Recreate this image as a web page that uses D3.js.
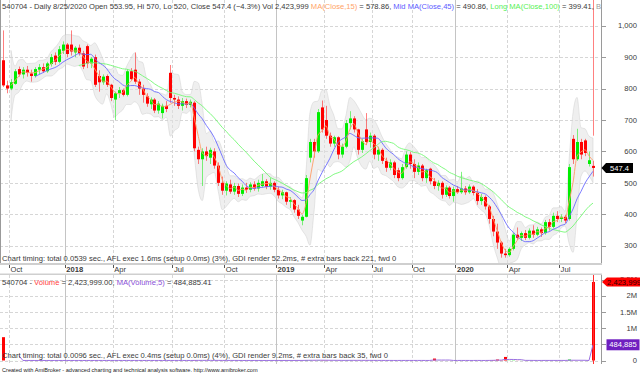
<!DOCTYPE html>
<html>
<head>
  <meta charset="utf-8">
  <title>540704 - Daily</title>
  <style>
    body { margin: 0; background: #ffffff; }
    svg { display: block; font-family: "Liberation Sans", Arial, sans-serif; }
    .txt { font-size: 7.6px; fill: #3a3a3a; }
    .grid { stroke: #d6d6d6; stroke-width: 1px; stroke-dasharray: 3,2; shape-rendering: crispEdges; }
    .grid-year { stroke: #c4c4c4; stroke-dasharray: none; }
    .axis-line { stroke: #9a9a9a; stroke-width: 1px; shape-rendering: crispEdges; }
    .band { fill: #e2e2e2; fill-opacity: 0.55; stroke: #c8c8c8; stroke-width: 0.6px; stroke-opacity: 0.7; }
    .ma { fill: none; stroke-width: 0.9px; }
  </style>
</head>
<body>
  <div id="chart"></div>

  <script src="https://d3js.org/d3.v7.min.js"></script>
  <script>
    // one bar ~ one trading week
    const opens = [890,810,800,815,862,845,860,848,840,860,868,855,878,905,885,920,940,940,915,930,
      912,935,880,900,840,820,840,812,765,785,795,780,855,860,822,800,775,750,765,730,
      722,745,850,770,765,745,760,748,755,605,575,600,580,600,555,500,475,495,472,490,
      465,485,478,495,482,490,505,488,500,478,460,470,440,445,415,380,392,580,630,600,
      740,700,650,625,645,590,615,690,705,670,605,670,630,650,590,605,570,548,565,540,
      515,550,590,560,535,555,515,545,505,490,500,462,485,458,480,470,482,470,488,468,
      442,455,425,385,345,310,275,270,290,335,325,340,325,348,335,352,340,375,360,395,
      385,392,385,640,575,630,635,560,553.95];
    const highs = [985,825,830,862,870,868,872,860,868,878,880,885,910,915,935,950,945,985,935,940,
      920,940,900,908,858,845,845,815,790,805,800,862,865,915,830,812,785,772,770,760,
      752,760,875,780,775,770,768,765,760,615,610,615,612,610,565,520,505,510,500,498,
      495,500,502,505,510,528,512,515,505,488,478,472,455,448,430,398,525,640,640,735,
      762,745,660,650,648,625,700,728,712,672,640,722,660,655,615,610,580,575,570,548,
      560,600,598,575,565,560,545,548,515,508,505,492,490,488,490,535,490,495,492,480,
      465,460,430,395,370,315,290,295,340,358,345,350,355,365,360,358,382,385,405,410,
      400,398,560,652,672,640,640,600,570];
    const lows = [805,785,795,812,838,832,838,822,835,845,850,850,870,875,880,910,900,905,900,905,
      862,865,865,805,790,812,805,760,700,770,775,775,825,815,780,755,742,735,722,720,
      705,725,755,745,735,730,738,740,600,560,490,570,560,545,490,462,460,465,462,455,
      458,468,470,475,472,485,480,478,470,450,448,430,420,405,385,365,390,565,580,595,
      660,640,615,615,575,580,610,670,660,590,595,620,612,575,570,560,535,540,515,505,
      510,545,545,515,525,505,500,495,480,475,450,455,450,440,465,465,462,465,460,430,
      430,415,370,330,290,262,262,265,285,318,315,318,320,325,330,328,335,348,355,375,
      375,372,380,560,570,575,585,552,520];
    const closes = [810,800,820,855,845,860,850,840,862,868,855,880,900,885,925,940,910,918,930,912,
      870,880,895,812,820,838,812,770,785,795,780,855,830,822,800,780,752,765,730,752,
      745,735,770,765,745,760,748,758,610,575,600,585,605,555,500,475,498,472,490,465,
      485,478,495,482,500,505,488,500,478,460,470,440,445,415,395,392,515,630,600,725,
      670,650,625,645,590,615,690,705,670,605,632,630,650,590,605,570,548,565,525,515,
      550,590,560,535,555,515,540,505,490,500,462,485,458,480,470,482,470,488,468,442,
      455,425,385,345,310,275,270,290,335,325,340,325,348,335,352,340,375,360,395,385,
      392,380,550,575,630,590,595,572,547.4];
    const volumes = [720000,1800,950,1200,700,1500,880,640,1100,930,760,1400,1250,820,990,1600,1080,2100,760,900,
      1300,1700,850,2400,1500,900,1100,1900,2600,1200,800,2200,1300,3100,1250,1600,1400,900,1500,1000,
      1700,1200,3800,1400,950,1050,880,760,9000,3500,4200,2000,1600,2300,4800,2900,1500,1800,1100,1300,
      900,1000,1200,850,1400,2500,1100,1300,900,1700,1200,2100,1500,2600,3100,2400,14000,9500,5200,8800,
      7400,6100,3300,2800,3600,2400,6200,5800,3700,4100,2500,4600,2200,2900,1800,1700,2100,1500,2400,1900,
      1800,3200,2300,1700,1500,2100,1400,2600,60000,1900,2400,1500,1800,1300,1200,3900,1600,1200,1400,2300,
      1500,2800,6400,12000,30000,9000,110000,4800,7200,3100,2500,2200,2800,1900,2400,1600,3500,2000,3300,2700,
      1800,1500,30000,3100,120,95,110,101,2423999];

    const monthTicks = [
      {label: "Oct", bar: 2}, {label: "2018", bar: 16, year: true}, {label: "Apr", bar: 28},
      {label: "Jul", bar: 43}, {label: "Oct", bar: 56}, {label: "2019", bar: 69, year: true},
      {label: "Apr", bar: 81}, {label: "Jul", bar: 93}, {label: "Oct", bar: 103},
      {label: "2020", bar: 114, year: true}, {label: "Apr", bar: 127}, {label: "Jul", bar: 140}
    ];
    const priceTicks = [300, 400, 500, 600, 700, 800, 900, 1000];
    const volumeTicks = [0, 500000, 1000000, 1500000, 2000000, 2500000];

    const ticker = "540704";
    const lastDate = "8/25/2020";
    const maDays = [15, 45, 100];
    const maLegendValues = [578.86, 490.86, 399.41];
    const volMaLegendValue = 484885.41;
    const selectorTop = 650;
    const timingPrice = "Chart timing: total 0.0539 sec., AFL exec 1.6ms (setup 0.0ms) (3%), GDI render 52.2ms, # extra bars back 221, fwd 0";
    const timingVolume = "Chart timing: total 0.0096 sec., AFL exec 0.4ms (setup 0.0ms) (4%), GDI render 9.2ms, # extra bars back 35, fwd 0";
    const footer = "Created with AmiBroker - advanced charting and technical analysis software. http://www.amibroker.com";

    const width = 640, height = 374;
    const plotRight = 600;
    const axisX = 601.5;
    const barDays = 5;
    const N = closes.length;
    const up = "#00ee00", down = "#ff0000";
    const textColor = "#3a3a3a";

    const bars = d3.range(N).map(i => ({i: i, o: opens[i], h: highs[i], l: lows[i], c: closes[i], v: volumes[i]}));

    const svg = d3.select("#chart").append("svg")
      .attr("width", width)
      .attr("height", height);

    const xScale = d3.scaleLinear().domain([0, N - 1]).range([3, 593]);
    const yScale = d3.scaleLinear().domain([300, 1000]).range([245.7, 25.7]);
    const vScale = d3.scaleLinear().domain([0, 2500000]).range([360.5, 279.5]);

    const defs = svg.append("defs");
    defs.append("clipPath").attr("id", "clip-price")
      .append("rect").attr("x", 0).attr("y", 0).attr("width", plotRight).attr("height", 263);
    defs.append("clipPath").attr("id", "clip-vol")
      .append("rect").attr("x", 0).attr("y", 275).attr("width", plotRight).attr("height", 89);

    function sma(arr, n) {
      return arr.map((d, i) => i < n - 1 ? null : d3.mean(arr.slice(i - n + 1, i + 1)));
    }

    // ---------- grids ----------
    function drawGrid(g, yTicks, scale, top, bottom) {
      g.selectAll(".hgrid").data(yTicks).enter().append("line")
        .attr("class", "grid")
        .attr("x1", 0).attr("x2", plotRight)
        .attr("y1", d => Math.round(scale(d)) + 0.5)
        .attr("y2", d => Math.round(scale(d)) + 0.5);
      g.selectAll(".vgrid").data(monthTicks).enter().append("line")
        .attr("class", d => d.year ? "grid grid-year" : "grid")
        .attr("x1", d => Math.round(xScale(d.bar - 0.5)) + 0.5)
        .attr("x2", d => Math.round(xScale(d.bar - 0.5)) + 0.5)
        .attr("y1", top).attr("y2", bottom);
    }

    const priceG = svg.append("g").attr("clip-path", "url(#clip-price)");
    drawGrid(priceG, priceTicks, yScale, 0, 263);

    // ---------- bollinger cloud ----------
    const shortP = maDays[0] / barDays, midP = maDays[1] / barDays, longP = maDays[2] / barDays;
    const maShort = sma(closes, shortP);
    const maMid = sma(closes, midP);
    const maLong = sma(closes, longP);

    const band = bars.map((b, i) => {
      if (i < shortP - 1) return null;
      const win = bars.slice(i - shortP + 1, i + 1).flatMap(d => [d.o, d.h, d.l, d.c]);
      const sd = d3.deviation(win);
      return {i: i, up: maShort[i] + 2 * sd, lo: maShort[i] - 2 * sd};
    });

    const area = d3.area()
      .defined(d => d)
      .x(d => xScale(d.i))
      .y0(d => yScale(d.lo))
      .y1(d => yScale(d.up))
      .curve(d3.curveMonotoneX);
    priceG.append("path").datum(band).attr("class", "band").attr("d", area);

    // ---------- candles ----------
    const candles = priceG.selectAll(".candle").data(bars).enter().append("g").attr("class", "candle");
    candles.append("line")
      .attr("x1", d => Math.round(xScale(d.i)) + 0.5)
      .attr("x2", d => Math.round(xScale(d.i)) + 0.5)
      .attr("y1", d => yScale(d.h))
      .attr("y2", d => yScale(d.l))
      .attr("stroke", d => d.c >= d.o ? up : down)
      .attr("stroke-opacity", 0.5)
      .attr("stroke-width", 1);
    candles.append("rect")
      .attr("x", d => Math.round(xScale(d.i)) - 1)
      .attr("width", 3)
      .attr("y", d => yScale(Math.max(d.o, d.c)))
      .attr("height", d => Math.max(1, Math.abs(yScale(d.o) - yScale(d.c))))
      .attr("fill", d => d.c >= d.o ? up : down);

    // ---------- moving averages ----------
    const line = d3.line()
      .defined(d => d != null)
      .x((d, i) => xScale(i))
      .y(d => yScale(d))
      .curve(d3.curveMonotoneX);
    priceG.append("path").datum(maLong).attr("class", "ma").attr("stroke", "#74f874").attr("d", line);
    priceG.append("path").datum(maMid).attr("class", "ma").attr("stroke", "#6b6bff").attr("d", line);
    priceG.append("path").datum(maShort).attr("class", "ma").attr("stroke", "#ff9c66").attr("d", line);

    // selector line on last bar
    priceG.append("line")
      .attr("x1", Math.round(xScale(N - 1)) + 0.5).attr("x2", Math.round(xScale(N - 1)) + 0.5)
      .attr("y1", 0).attr("y2", yScale(selectorTop))
      .attr("stroke", "#ff8080").attr("stroke-width", 1);

    // left border
    svg.append("line").attr("class", "axis-line")
      .attr("x1", 0.5).attr("x2", 0.5).attr("y1", 0).attr("y2", 263);

    // ---------- header ----------
    const chg = (closes[N - 1] / closes[N - 2] - 1) * 100;
    const headerParts = [
      {t: ticker + " - Daily " + lastDate + " Open " + opens[N - 1] + ", Hi " + highs[N - 1] +
          ", Lo " + lows[N - 1] + ", Close " + closes[N - 1] + " (" + d3.format(".1f")(chg) + "%) Vol " +
          d3.format(",")(volumes[N - 1]) + " ", c: textColor},
      {t: "MA(Close," + maDays[0] + ")", c: "#ffa366"},
      {t: " = " + maLegendValues[0] + ", ", c: textColor},
      {t: "Mid MA(Close," + maDays[1] + ")", c: "#5c5cff"},
      {t: " = " + maLegendValues[1] + ", ", c: textColor},
      {t: "Long MA(Close," + maDays[2] + ")", c: "#55f055"},
      {t: " = " + maLegendValues[2] + ", ", c: textColor},
      {t: "B", c: "#9a9a9a"}
    ];
    const header = svg.append("text").attr("class", "txt").attr("x", 2).attr("y", 9);
    header.selectAll("tspan").data(headerParts).enter().append("tspan")
      .attr("fill", d => d.c).style("fill", d => d.c).text(d => d.t);

    svg.append("text").attr("class", "txt").attr("x", 2).attr("y", 260.5).text(timingPrice);

    // ---------- price axis ----------
    svg.append("line").attr("class", "axis-line")
      .attr("x1", axisX).attr("x2", axisX).attr("y1", 0).attr("y2", 263);
    const pAxis = svg.append("g");
    pAxis.selectAll("line").data(priceTicks).enter().append("line")
      .attr("class", "axis-line")
      .attr("x1", axisX).attr("x2", axisX + 4)
      .attr("y1", d => Math.round(yScale(d)) + 0.5).attr("y2", d => Math.round(yScale(d)) + 0.5);
    pAxis.selectAll("text").data(priceTicks).enter().append("text")
      .attr("class", "txt").attr("text-anchor", "end")
      .attr("x", 637).attr("y", d => yScale(d) + 2.7)
      .text(d => d3.format(",")(d));

    // last close tag
    const yc = yScale(closes[N - 1]);
    svg.append("path")
      .attr("d", `M${axisX},${yc} L${axisX + 4.5},${yc - 5} L633,${yc - 5} L633,${yc + 5} L${axisX + 4.5},${yc + 5} Z`)
      .attr("fill", "#000");
    svg.append("text").attr("class", "txt").style("fill", "#fff")
      .attr("text-anchor", "middle").attr("x", 619.5).attr("y", yc + 2.7)
      .text(closes[N - 1]);

    // ---------- date axis strip ----------
    svg.append("rect").attr("x", 0).attr("y", 263).attr("width", plotRight + 2).attr("height", 2).attr("fill", "#cfcfcf");
    svg.append("rect").attr("x", 0).attr("y", 273.5).attr("width", plotRight + 2).attr("height", 1.5).attr("fill", "#cfcfcf");
    const xAxisG = svg.append("g");
    xAxisG.selectAll("line").data(monthTicks).enter().append("line")
      .attr("x1", d => Math.round(xScale(d.bar - 0.5)) + 0.5)
      .attr("x2", d => Math.round(xScale(d.bar - 0.5)) + 0.5)
      .attr("y1", 265).attr("y2", 268)
      .attr("stroke", "#555").attr("stroke-width", 1);
    xAxisG.selectAll("text").data(monthTicks).enter().append("text")
      .attr("class", "txt")
      .attr("x", d => xScale(d.bar - 0.5) + 1.5)
      .attr("y", 272)
      .attr("font-weight", d => d.year ? "bold" : "normal")
      .text(d => d.label);

    // ---------- volume pane ----------
    const volG = svg.append("g").attr("clip-path", "url(#clip-vol)");
    drawGrid(volG, volumeTicks, vScale, 275, 364);

    volG.selectAll(".vbar").data(bars).enter().append("rect")
      .attr("x", d => Math.round(xScale(d.i)) - 1)
      .attr("width", 3)
      .attr("y", d => vScale(d.v))
      .attr("height", d => vScale(0) - vScale(d.v))
      .attr("fill", d => d.c >= d.o ? up : down);

    const volMa = sma(volumes, 5);
    const vline = d3.line()
      .defined(d => d != null)
      .x((d, i) => xScale(i))
      .y(d => vScale(d));
    volG.append("path").datum(volMa)
      .attr("fill", "none").attr("stroke", "#9a70e0").attr("stroke-width", 1).attr("d", vline);

    volG.append("line")
      .attr("x1", Math.round(xScale(N - 1)) + 0.5).attr("x2", Math.round(xScale(N - 1)) + 0.5)
      .attr("y1", 275).attr("y2", 364)
      .attr("stroke", "#ff3030").attr("stroke-width", 1);

    const volParts = [
      {t: ticker + " - ", c: textColor},
      {t: "Volume", c: "#ff4040"},
      {t: " = " + d3.format(",.2f")(volumes[N - 1]) + ", ", c: textColor},
      {t: "MA(Volume,5)", c: "#8a4fd8"},
      {t: " = " + d3.format(",.2f")(volMaLegendValue), c: textColor}
    ];
    const vHeader = svg.append("text").attr("class", "txt").attr("x", 2).attr("y", 284.5);
    vHeader.selectAll("tspan").data(volParts).enter().append("tspan")
      .attr("fill", d => d.c).style("fill", d => d.c).text(d => d.t);

    svg.append("text").attr("class", "txt").attr("x", 2).attr("y", 357.5).text(timingVolume);

    svg.append("line").attr("class", "axis-line")
      .attr("x1", axisX).attr("x2", axisX).attr("y1", 275).attr("y2", 364);

    const yv = vScale(volumes[N - 1]);
    const yvm = vScale(volMa[N - 1]);

    const vAxis = svg.append("g");
    vAxis.selectAll("line").data(volumeTicks).enter().append("line")
      .attr("class", "axis-line")
      .attr("x1", axisX).attr("x2", axisX + 4)
      .attr("y1", d => Math.round(vScale(d)) + 0.5).attr("y2", d => Math.round(vScale(d)) + 0.5);
    // labels fully hidden behind a value tag are not drawn
    vAxis.selectAll("text").data(volumeTicks.filter(d => Math.abs(vScale(d) - yvm) > 6)).enter().append("text")
      .attr("class", "txt").attr("text-anchor", "end")
      .attr("x", 637).attr("y", d => vScale(d) + 2.7)
      .text(d => d === 0 ? "0" : d < 1000000 ? (d / 1000) + "k" : (d / 1000000) + "M");

    // value tags
    svg.append("path")
      .attr("d", `M${axisX + 0.5},${yv} L${axisX + 5.5},${yv - 4.5} L640,${yv - 4.5} L640,${yv + 4.5} L${axisX + 5.5},${yv + 4.5} Z`)
      .attr("fill", "#ff0000");
    svg.append("text").attr("class", "txt").style("fill", "#300000")
      .attr("text-anchor", "middle").attr("x", 624).attr("y", yv + 2.7)
      .text(d3.format(",")(volumes[N - 1]));

    svg.append("rect").attr("x", 606.5).attr("y", yvm - 5.5).attr("width", 33).attr("height", 11).attr("fill", "#6f1fc0");
    svg.append("text").attr("class", "txt").style("fill", "#fff")
      .attr("text-anchor", "middle").attr("x", 623).attr("y", yvm + 2.7)
      .text(d3.format(",.0f")(volMa[N - 1]));

    // footer
    svg.append("text").attr("x", 2).attr("y", 371.5)
      .attr("font-size", "5.6px").attr("fill", "#222").text(footer);
  </script>
</body>
</html>
